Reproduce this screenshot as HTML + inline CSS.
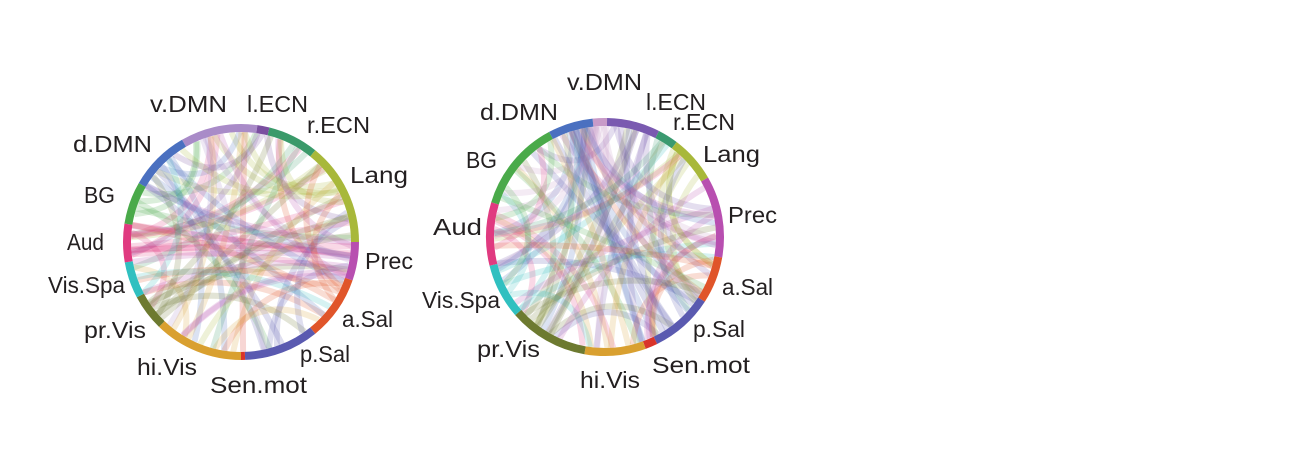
<!DOCTYPE html>
<html><head><meta charset="utf-8">
<style>
html,body{margin:0;padding:0;background:#fff;}
svg{display:block;}
text{font-family:"Liberation Sans",sans-serif;font-size:23px;fill:#231f20;}
</style></head>
<body>
<svg id="s" width="1290" height="469" viewBox="0 0 1290 469" xmlns="http://www.w3.org/2000/svg">
<rect width="1290" height="469" fill="#fff"/>
<g id="g1"></g><g id="g2"></g>
<g lengthAdjust="spacingAndGlyphs">
<!-- left labels -->
<text x="150" y="112" textLength="77" lengthAdjust="spacingAndGlyphs">v.DMN</text>
<text x="247" y="112" textLength="61" lengthAdjust="spacingAndGlyphs">l.ECN</text>
<text x="307" y="133" textLength="63" lengthAdjust="spacingAndGlyphs">r.ECN</text>
<text x="350" y="183" textLength="58" lengthAdjust="spacingAndGlyphs">Lang</text>
<text x="365" y="269" textLength="48" lengthAdjust="spacingAndGlyphs">Prec</text>
<text x="342" y="327" textLength="51" lengthAdjust="spacingAndGlyphs">a.Sal</text>
<text x="300" y="362" textLength="50" lengthAdjust="spacingAndGlyphs">p.Sal</text>
<text x="210" y="393" textLength="97" lengthAdjust="spacingAndGlyphs">Sen.mot</text>
<text x="137" y="375" textLength="60" lengthAdjust="spacingAndGlyphs">hi.Vis</text>
<text x="84" y="338" textLength="62" lengthAdjust="spacingAndGlyphs">pr.Vis</text>
<text x="48" y="293" textLength="77" lengthAdjust="spacingAndGlyphs">Vis.Spa</text>
<text x="67" y="250" textLength="37" lengthAdjust="spacingAndGlyphs">Aud</text>
<text x="84" y="203" textLength="31" lengthAdjust="spacingAndGlyphs">BG</text>
<text x="73" y="152" textLength="79" lengthAdjust="spacingAndGlyphs">d.DMN</text>
<!-- right labels -->
<text x="567" y="90" textLength="75" lengthAdjust="spacingAndGlyphs">v.DMN</text>
<text x="646" y="110" textLength="60" lengthAdjust="spacingAndGlyphs">l.ECN</text>
<text x="673" y="130" textLength="62" lengthAdjust="spacingAndGlyphs">r.ECN</text>
<text x="703" y="162" textLength="57" lengthAdjust="spacingAndGlyphs">Lang</text>
<text x="728" y="223" textLength="49" lengthAdjust="spacingAndGlyphs">Prec</text>
<text x="722" y="295" textLength="51" lengthAdjust="spacingAndGlyphs">a.Sal</text>
<text x="693" y="337" textLength="52" lengthAdjust="spacingAndGlyphs">p.Sal</text>
<text x="652" y="373" textLength="98" lengthAdjust="spacingAndGlyphs">Sen.mot</text>
<text x="580" y="388" textLength="60" lengthAdjust="spacingAndGlyphs">hi.Vis</text>
<text x="477" y="357" textLength="63" lengthAdjust="spacingAndGlyphs">pr.Vis</text>
<text x="422" y="308" textLength="78" lengthAdjust="spacingAndGlyphs">Vis.Spa</text>
<text x="433" y="235" textLength="49" lengthAdjust="spacingAndGlyphs">Aud</text>
<text x="466" y="168" textLength="31" lengthAdjust="spacingAndGlyphs">BG</text>
<text x="480" y="120" textLength="78" lengthAdjust="spacingAndGlyphs">d.DMN</text>
</g>
</svg>
<script>
(function(){
var NS="http://www.w3.org/2000/svg";
var seed=12345;function rnd(){seed=(seed*1103515245+12345)&0x7fffffff;return seed/0x7fffffff;}
function pt(cx,cy,r,a){var t=(a-90)*Math.PI/180;return [cx+r*Math.cos(t),cy+r*Math.sin(t)];}
function el(n,at,p){var e=document.createElementNS(NS,n);for(var k in at)e.setAttribute(k,at[k]);p.appendChild(e);return e;}
function draw(g,cx,cy,R,segs,n){
  var inner=R-8;
  for(var i=0;i<n;i++){
    var s=segs[Math.floor(rnd()*segs.length)];
    var a1=s[0]+rnd()*(s[1]-s[0]);
    var a2=a1+40+rnd()*280;
    var p1=pt(cx,cy,inner,a1),p2=pt(cx,cy,inner,a2);
    var d=Math.abs(((a2-a1)%360+360)%360);if(d>180)d=360-d;
    var k=0.15+0.6*(1-d/180)*0.9;
    var cxp=cx+(p1[0]+p2[0]-2*cx)*k*0.5, cyp=cy+(p1[1]+p2[1]-2*cy)*k*0.5;
    el("path",{d:"M"+p1[0].toFixed(1)+","+p1[1].toFixed(1)+" Q"+cxp.toFixed(1)+","+cyp.toFixed(1)+" "+p2[0].toFixed(1)+","+p2[1].toFixed(1),
      fill:"none",stroke:s[2],"stroke-width":6,"stroke-opacity":0.2},g);
  }
  segs.forEach(function(s){
    var p1=pt(cx,cy,R-4,s[0]),p2=pt(cx,cy,R-4,s[1]);
    var large=(s[1]-s[0])>180?1:0;
    el("path",{d:"M"+p1[0]+","+p1[1]+" A"+(R-4)+","+(R-4)+" 0 "+large+" 1 "+p2[0]+","+p2[1],fill:"none",stroke:s[2],"stroke-width":8},g);
  });
}
var L=[[-30,8,"#a98bc8"],[8,14,"#7a4fa0"],[14,39,"#3a9a6a"],[39,90,"#a8b83a"],[90,109,"#b84fb0"],[109,141,"#e0552a"],[141,178,"#5a5ab0"],[178,180,"#d9342a"],[180,224,"#d9a030"],[224,242,"#6d7a30"],[242,260,"#30c0c0"],[260,279,"#e03a80"],[279,300,"#4aaa4a"],[300,330,"#4a70c0"]];
var Rr=[[-6,1,"#c89ac8"],[1,27,"#7a5ab0"],[27,37,"#3a9a70"],[37,60,"#a8b83a"],[60,100,"#b84fb0"],[100,123,"#e0552a"],[123,154,"#5a5ab0"],[154,160,"#d9342a"],[160,190,"#d9a030"],[190,229,"#6d7a30"],[229,256,"#30c0c0"],[256,287,"#e03a80"],[287,332,"#4aaa4a"],[332,354,"#4a70c0"]];
draw(document.getElementById("g1"),241,242,118,L,75);
draw(document.getElementById("g2"),605,237,119,Rr,85);
})();
</script>
</body></html>
